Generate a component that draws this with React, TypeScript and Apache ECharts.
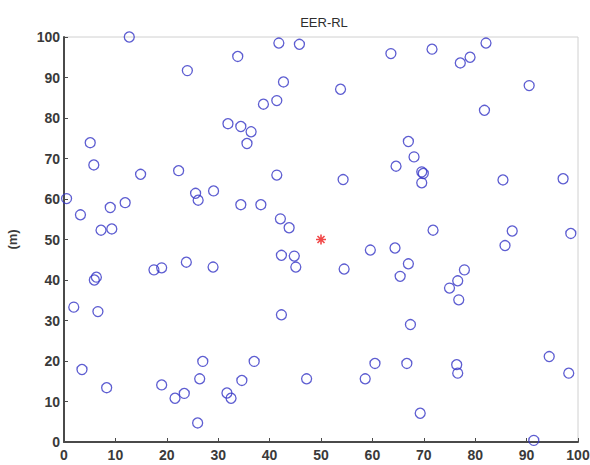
import React, { useEffect, useRef } from "react";
import * as echarts from "echarts";

// Sensor node positions (m)
const nodeX: number[] = [
  12.7, 24.0, 5.1, 5.8, 14.9, 22.3, 0.5, 3.2, 9.0, 11.9, 7.2, 9.3,
  41.8, 45.8, 33.8, 42.7, 38.8, 41.4, 31.9, 34.4, 36.4, 35.6, 41.4, 25.6,
  26.1, 29.1, 34.4, 38.3, 42.1, 43.8, 63.6, 71.6, 53.8, 67.0, 68.1, 64.6,
  69.6, 69.9, 69.6, 54.3, 71.8, 82.1, 79.0, 77.1, 90.5, 81.8, 85.4, 97.1,
  87.2, 98.6, 6.3, 5.9, 1.9, 6.6, 3.5, 8.3, 17.5, 19.0, 23.8, 19.0,
  21.6, 23.4, 29.0, 42.3, 44.8, 45.1, 42.3, 27.0, 37.0, 26.4, 34.6, 47.2,
  31.7, 32.5, 26.0, 59.6, 64.4, 54.5, 67.0, 65.4, 75.0, 67.4, 60.5, 66.7,
  58.6, 69.3, 85.8, 77.9, 76.6, 76.8, 94.4, 76.4, 76.6, 98.2, 91.4,
];
const nodeY: number[] = [
  100, 91.7, 73.9, 68.4, 66.1, 67.0, 60.1, 56.1, 57.9, 59.1, 52.3, 52.6,
  98.5, 98.2, 95.2, 88.9, 83.4, 84.3, 78.6, 77.9, 76.6, 73.7, 65.9, 61.4,
  59.7, 62.0, 58.6, 58.6, 55.1, 52.9, 95.9, 97.0, 87.1, 74.2, 70.4, 68.1,
  66.7, 66.3, 64.0, 64.8, 52.3, 98.5, 95.0, 93.6, 88.0, 81.9, 64.7, 65.0,
  52.1, 51.5, 40.7, 40.0, 33.3, 32.2, 17.9, 13.4, 42.5, 43.0, 44.4, 14.1,
  10.8, 12.0, 43.2, 46.1, 45.9, 43.2, 31.4, 19.9, 19.9, 15.6, 15.2, 15.6,
  12.1, 10.8, 4.7, 47.4, 47.9, 42.7, 44.0, 40.9, 38.0, 29.0, 19.4, 19.4,
  15.6, 7.1, 48.5, 42.5, 39.8, 35.1, 21.1, 19.1, 17.0, 17.0, 0.4,
];

// Base station position
const baseX: number[] = [50];
const baseY: number[] = [50];

const axisTicks: number[] = [0, 10, 20, 30, 40, 50, 60, 70, 80, 90, 100];

const FONT = "'Liberation Sans', Arial, sans-serif";

export default function App() {
  const ref = useRef<HTMLDivElement>(null);

  useEffect(() => {
    if (!ref.current) return;
    const chart = echarts.init(ref.current, null, { renderer: "svg" });

    const nodes = nodeX.map((x, i) => [x, nodeY[i]]);
    const base = baseX.map((x, i) => [x, baseY[i]]);

    const axisCommon = {
      min: axisTicks[0],
      max: axisTicks[axisTicks.length - 1],
      interval: 10,
      splitLine: { show: false },
      axisLine: { show: true, onZero: false, lineStyle: { color: "#4a4a4a", width: 2 } },
      axisTick: { show: true, inside: true, length: 4, lineStyle: { color: "#4a4a4a", width: 1 } },
      axisLabel: {
        color: "#3a3a3a",
        fontFamily: FONT,
        fontWeight: "bold" as const,
        fontSize: 14,
      },
    };

    chart.setOption({
      animation: false,
      backgroundColor: "#ffffff",
      title: {
        text: "EER-RL",
        left: 319,
        top: 11,
        textAlign: "center",
        textStyle: { fontFamily: FONT, fontSize: 13, fontWeight: "normal", color: "#2e2e2e" },
      },
      grid: {
        left: 64,
        right: 12,
        top: 37,
        bottom: 23,
        containLabel: false,
        outerBoundsMode: "none",
        show: true,
        borderColor: "#d0d0d0",
        borderWidth: 1,
      },
      xAxis: {
        type: "value",
        ...axisCommon,
        axisLabel: { ...axisCommon.axisLabel, margin: 6 },
      },
      yAxis: {
        type: "value",
        ...axisCommon,
        name: "(m)",
        nameLocation: "middle",
        nameGap: 45,
        nameRotate: 90,
        nameTextStyle: { fontFamily: FONT, fontWeight: "bold", fontSize: 13, color: "#3a3a3a" },
        axisLabel: { ...axisCommon.axisLabel, margin: 4 },
      },
      series: [
        {
          type: "scatter",
          data: nodes,
          symbol: "circle",
          symbolSize: 10,
          itemStyle: { color: "rgba(0,0,0,0)", borderColor: "#3535c6", borderWidth: 1.3 },
          z: 3,
        },
        {
          type: "scatter",
          data: base,
          symbol: "path://M0,-1L0,1M-1,0L1,0M-0.7,-0.7L0.7,0.7M-0.7,0.7L0.7,-0.7",
          symbolSize: 10,
          itemStyle: { color: "rgba(0,0,0,0)", borderColor: "#ee1c1c", borderWidth: 1.6 },
          z: 4,
        },
      ],
    });

    return () => chart.dispose();
  }, []);

  return <div ref={ref} style={{ width: 590, height: 465, position: "absolute", left: 0, top: 0 }} />;
}
